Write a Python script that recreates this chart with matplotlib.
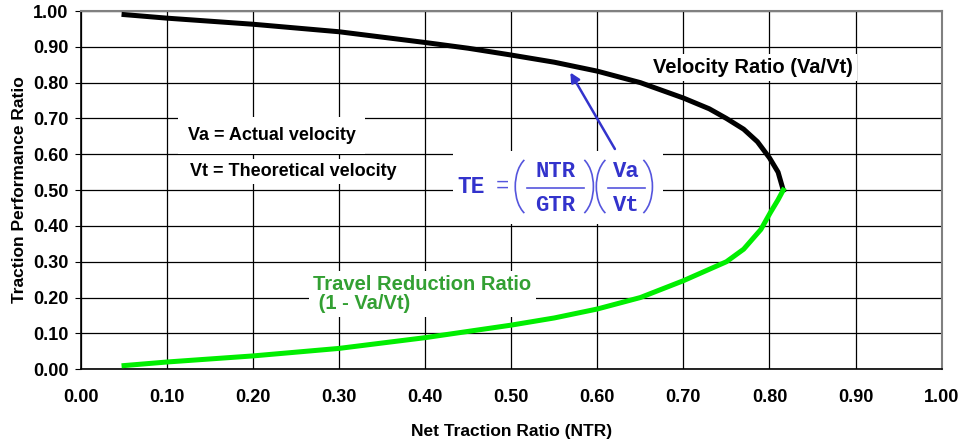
import matplotlib.pyplot as plt
from matplotlib.patches import Arc, Rectangle

plt.rcParams['font.family'] = ['Liberation Sans', 'DejaVu Sans']
plt.rcParams['font.weight'] = 'bold'

# values
ntr_v = [0.05, 0.10, 0.20, 0.30, 0.40, 0.45, 0.50, 0.55, 0.60, 0.65, 0.70, 0.73, 0.75, 0.77, 0.786, 0.80, 0.81, 0.816]
velocity_ratio = [0.99, 0.98, 0.963, 0.942, 0.912, 0.896, 0.877, 0.857, 0.832, 0.80, 0.757, 0.727, 0.70, 0.67, 0.635, 0.59, 0.55, 0.50]
ntr_t = [0.05, 0.10, 0.20, 0.30, 0.40, 0.50, 0.55, 0.60, 0.65, 0.70, 0.75, 0.77, 0.79, 0.801, 0.81, 0.816]
travel_reduction = [0.01, 0.02, 0.037, 0.058, 0.088, 0.123, 0.143, 0.168, 0.20, 0.247, 0.30, 0.335, 0.39, 0.437, 0.473, 0.50]

ticks = [i / 10 for i in range(11)]
tick_labels = ['%.2f' % t for t in ticks]

blue = '#3333cc'
light_blue = '#5555dd'
mono = 'Liberation Mono'

fig = plt.figure(figsize=(9.61, 4.4), dpi=100)
ax = fig.add_axes([0.0843, 0.161, 0.8955, 0.814])

ax.plot(ntr_v, velocity_ratio, color='black', lw=3.6, solid_joinstyle='round', zorder=3)
ax.plot(ntr_t, travel_reduction, color='#00ee00', lw=3.6, solid_joinstyle='round', zorder=3)

ax.set_xlim(0, 1)
ax.set_ylim(0, 1)
ax.set_xticks(ticks)
ax.set_yticks(ticks)
ax.set_xticklabels(tick_labels, fontsize=13, fontweight='bold')
ax.set_yticklabels(tick_labels, fontsize=13, fontweight='bold')
ax.tick_params(axis='x', length=0, pad=14)
ax.tick_params(axis='y', length=4, direction='out', pad=5)
ax.grid(True, color='black', lw=0.9)
ax.set_axisbelow(True)
for s in ['top', 'right']:
    ax.spines[s].set_color('#808080')
    ax.spines[s].set_linewidth(1.5)
for s in ['left', 'bottom']:
    ax.spines[s].set_color('black')
    ax.spines[s].set_linewidth(1.2)

ax.set_xlabel('Net Traction Ratio (NTR)', fontsize=12.5, fontweight='bold', labelpad=13)
ax.set_ylabel('Traction Performance Ratio', fontsize=12.5, fontweight='bold', labelpad=4)

box = dict(facecolor='white', edgecolor='none', pad=3)
ax.text(0.665, 0.843, 'Velocity Ratio (Va/Vt)', fontsize=14.5, fontweight='bold',
        ha='left', va='center', bbox=box, zorder=4)
ax.text(0.124, 0.652, 'Va = Actual velocity', fontsize=13, fontweight='bold',
        ha='left', va='center', bbox=dict(facecolor='white', edgecolor='none', pad=7), zorder=4)
ax.text(0.127, 0.552, 'Vt = Theoretical velocity', fontsize=13, fontweight='bold',
        ha='left', va='center', bbox=box, zorder=4)
ax.text(0.27, 0.21, 'Travel Reduction Ratio\n (1 - Va/Vt)', fontsize=14.5, fontweight='bold',
        color='#33a033', ha='left', va='center', linespacing=1.0, bbox=box, zorder=4)

# TE formula, built from pieces
ax.add_patch(Rectangle((0.432, 0.406), 0.244, 0.202, facecolor='white', edgecolor='none', zorder=4))
ax.text(0.437, 0.51, 'TE', family=mono, fontsize=16.5, fontweight='bold', color=blue,
        ha='left', va='center', zorder=5)
ax.text(0.4895, 0.51, '=', family=mono, fontsize=16, fontweight='normal', color=light_blue,
        ha='center', va='center', zorder=5)
ax.text(0.551, 0.552, 'NTR', family=mono, fontsize=16, fontweight='bold', color=blue,
        ha='center', va='center', zorder=5)
ax.text(0.551, 0.458, 'GTR', family=mono, fontsize=16, fontweight='bold', color=blue,
        ha='center', va='center', zorder=5)
ax.text(0.634, 0.552, 'Va', family=mono, fontsize=16, fontweight='bold', color=blue,
        ha='center', va='center', zorder=5)
ax.text(0.634, 0.458, 'Vt', family=mono, fontsize=16, fontweight='bold', color=blue,
        ha='center', va='center', zorder=5)
ax.plot([0.5186, 0.5849], [0.505, 0.505], color=light_blue, lw=1.2, zorder=5)
ax.plot([0.6128, 0.6558], [0.505, 0.505], color=light_blue, lw=1.2, zorder=5)
for cx, t1, t2 in [(0.5256, 98, 262), (0.5744, -82, 82), (0.6198, 98, 262), (0.6430, -82, 82)]:
    ax.add_patch(Arc((cx, 0.51), 0.042, 0.171, theta1=t1, theta2=t2,
                     color=light_blue, lw=1.2, zorder=5))

ax.annotate('', xy=(0.567, 0.835), xytext=(0.622, 0.608),
            arrowprops=dict(arrowstyle='-|>', color=blue, lw=1.8, mutation_scale=14),
            zorder=5)

fig.savefig('out.png', dpi=100)
